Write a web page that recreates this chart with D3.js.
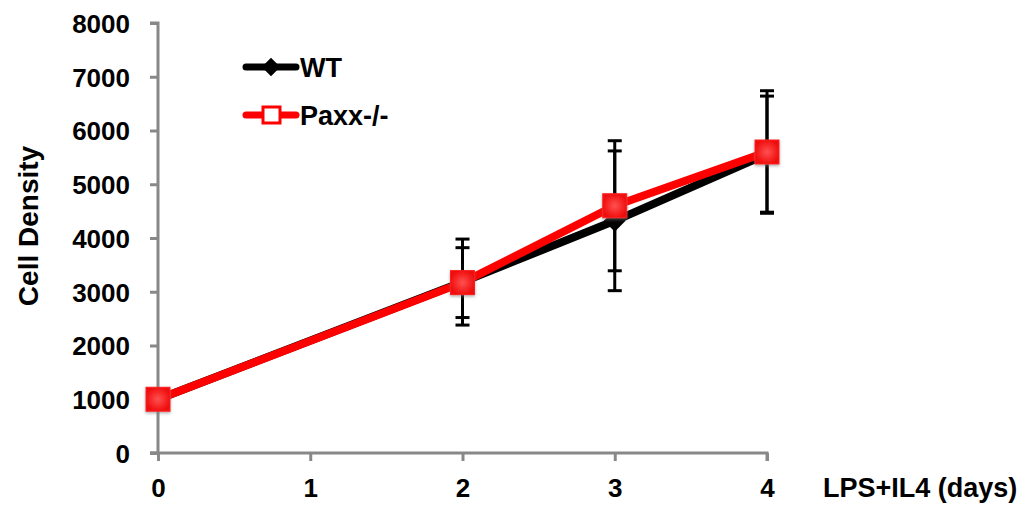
<!DOCTYPE html>
<html>
<head>
<meta charset="utf-8">
<script src="https://cdn.jsdelivr.net/npm/d3@7"></script>
<style>
  html, body { margin: 0; padding: 0; background: #fff; }
  svg { display: block; }
  text { font-family: Arial, "Liberation Sans", sans-serif; font-weight: bold; fill: #000; }
</style>
</head>
<body>
<svg id="chart" width="1033" height="505"></svg>
<script>
// ---- data ----
const days = [0, 2, 3, 4];
const xTicks = [0, 1, 2, 3, 4];
const yTicks = [0, 1000, 2000, 3000, 4000, 5000, 6000, 7000, 8000];
const seriesNames = ["WT", "Paxx-/-"];
const wtValues = [1000, 3180, 4320, 5560];
const wtErrors = [0, 800, 1300, 1080];
const paxxValues = [1000, 3170, 4600, 5600];
const paxxErrors = [0, 650, 1210, 1140];
const xTitle = "LPS+IL4 (days)";
const yTitle = "Cell Density";

const svg = d3.select("#chart");
const x = d3.scaleLinear().domain([0, 4]).range([158, 767]);
const y = d3.scaleLinear().domain([0, 8000]).range([453, 23]);

const defs = svg.append("defs");
const f = defs.append("filter").attr("id", "glow").attr("x", "-50%").attr("y", "-50%").attr("width", "200%").attr("height", "200%");
f.append("feDropShadow").attr("dx", 0).attr("dy", 1.5).attr("stdDeviation", 1.6)
  .attr("flood-color", "#777").attr("flood-opacity", 0.6);
const grad = defs.append("radialGradient").attr("id", "redgrad");
grad.append("stop").attr("offset", "0%").attr("stop-color", "#ff5050");
grad.append("stop").attr("offset", "100%").attr("stop-color", "#f01010");

// ---- axes ----
const axisColor = "#888888";
const yAxis = svg.append("g").attr("transform", `translate(${x(0)},0)`)
  .call(d3.axisLeft(y).tickValues(yTicks).tickSize(8).tickPadding(20).tickFormat(d3.format("d")));
const xAxis = svg.append("g").attr("transform", `translate(0,${y(0)})`)
  .call(d3.axisBottom(x).tickValues(xTicks).tickSize(8).tickPadding(22).tickFormat(d3.format("d")));
[xAxis, yAxis].forEach(g => {
  g.select(".domain").attr("stroke", axisColor).attr("stroke-width", 3);
  g.selectAll(".tick line").attr("stroke", axisColor).attr("stroke-width", 3);
  g.selectAll(".tick text").attr("font-size", 26).attr("font-weight", "bold")
    .attr("font-family", "Arial, 'Liberation Sans', sans-serif").attr("fill", "#000");
});
yAxis.select(".domain").attr("d", `M-8,${y(8000)}H0V${y(0)}H-8`);
xAxis.select(".domain").attr("d", `M${x(0) - 8},0H${x(4)}V8`);
// place x tick label baselines at about y = 497
xAxis.selectAll(".tick text").attr("y", 44).attr("dy", "0");
yAxis.selectAll(".tick text").attr("dy", "0.36em");

// axis titles
svg.append("text").attr("x", 823).attr("y", 497).attr("font-size", 27).text(xTitle);
svg.append("text").attr("transform", `translate(38,226) rotate(-90)`).attr("text-anchor", "middle")
  .attr("font-size", 28).text(yTitle);

// ---- error bars ----
const errData = [];
days.forEach((d, i) => {
  if (wtErrors[i] > 0) errData.push({ d, v: wtValues[i], e: wtErrors[i] });
  if (paxxErrors[i] > 0) errData.push({ d, v: paxxValues[i], e: paxxErrors[i] });
});
const eb = svg.append("g").attr("stroke", "#000").attr("stroke-width", 3);
eb.selectAll("line.v").data(errData).join("line")
  .attr("x1", e => x(e.d)).attr("x2", e => x(e.d))
  .attr("y1", e => y(e.v + e.e)).attr("y2", e => y(e.v - e.e));
eb.selectAll("line.ct").data(errData).join("line")
  .attr("x1", e => x(e.d) - 7).attr("x2", e => x(e.d) + 7)
  .attr("y1", e => y(e.v + e.e)).attr("y2", e => y(e.v + e.e));
eb.selectAll("line.cb").data(errData).join("line")
  .attr("x1", e => x(e.d) - 7).attr("x2", e => x(e.d) + 7)
  .attr("y1", e => y(e.v - e.e)).attr("y2", e => y(e.v - e.e));

// ---- lines ----
const line = d3.line().x((d, i) => x(days[i])).y(d => y(d));
svg.append("path").datum(wtValues).attr("d", line).attr("fill", "none")
  .attr("stroke", "#000").attr("stroke-width", 8).attr("stroke-linejoin", "round");
svg.selectAll("path.wtm").data(wtValues).join("path").attr("class", "wtm")
  .attr("transform", (d, i) => `translate(${x(days[i])},${y(d)})`)
  .attr("d", d3.symbol(d3.symbolDiamond2, 300)).attr("fill", "#000");

svg.append("path").datum(paxxValues).attr("d", line).attr("fill", "none")
  .attr("stroke", "#ff0000").attr("stroke-width", 8).attr("stroke-linejoin", "round");
svg.selectAll("rect.pm").data(paxxValues).join("rect").attr("class", "pm")
  .attr("x", (d, i) => x(days[i]) - 12).attr("y", d => y(d) - 12)
  .attr("width", 24).attr("height", 24)
  .attr("fill", "url(#redgrad)").attr("stroke", "#ff1a1a").attr("stroke-width", 1)
  .attr("filter", "url(#glow)");

// ---- legend ----
const lg = svg.append("g");
const legY = [67, 115];
seriesNames.forEach((name, i) => {
  const col = i === 0 ? "#000" : "#ff0000";
  lg.append("line").attr("x1", 246).attr("x2", 296).attr("y1", legY[i]).attr("y2", legY[i])
    .attr("stroke", col).attr("stroke-width", 7).attr("stroke-linecap", "round");
  if (i === 0) {
    lg.append("path").attr("transform", `translate(271,${legY[i]})`)
      .attr("d", d3.symbol(d3.symbolDiamond2, 220)).attr("fill", "#000");
  } else {
    lg.append("rect").attr("x", 263).attr("y", legY[i] - 8).attr("width", 17).attr("height", 16)
      .attr("fill", "#fff").attr("stroke", "#ff0000").attr("stroke-width", 3);
  }
  lg.append("text").attr("x", 300).attr("y", legY[i]).attr("dy", "0.36em")
    .attr("font-size", 27).text(name);
});
</script>
</body>
</html>
